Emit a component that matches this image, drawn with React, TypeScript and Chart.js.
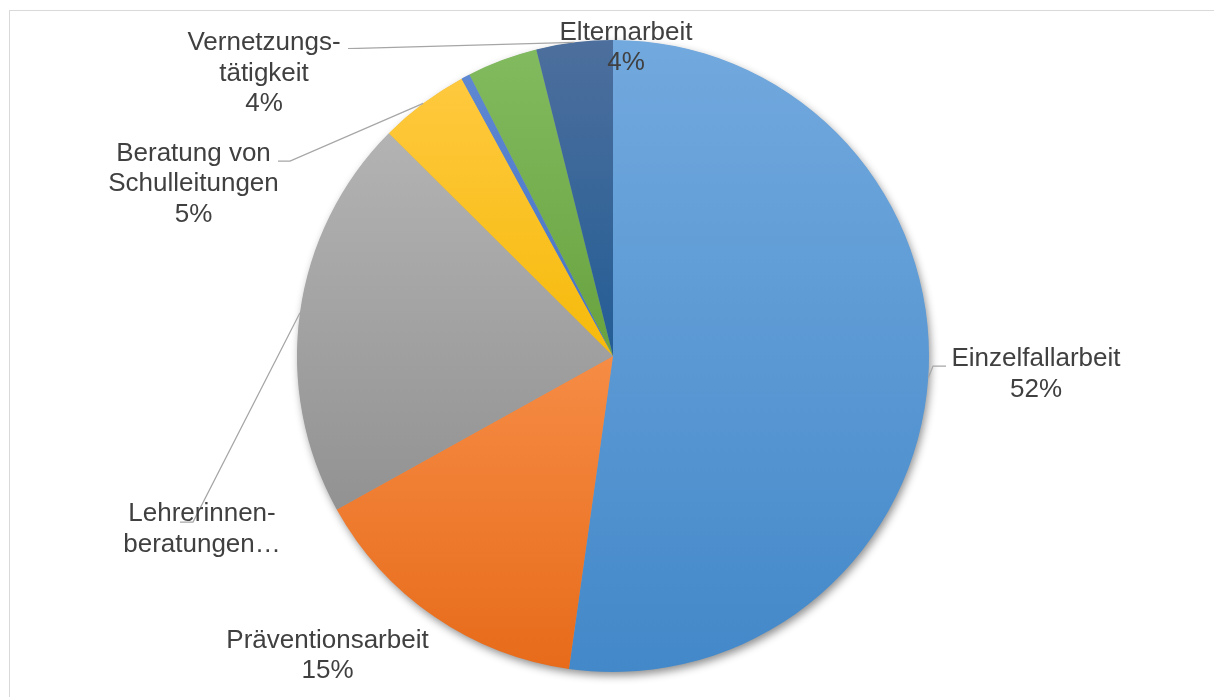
import React, { useEffect, useRef } from 'react';
import { Chart, registerables } from 'chart.js';

Chart.register(...registerables);

// ---- data ----
const categories = [
  'Einzelfallarbeit',
  'Präventionsarbeit',
  'Lehrerinnen-beratungen…',
  'Beratung von Schulleitungen',
  '',
  'Elternarbeit',
  'Vernetzungstätigkeit',
];
const shares = [52.2, 14.7, 20.5, 4.6, 0.45, 3.6, 3.9];
const labelLines = [
  ['Einzelfallarbeit'],
  ['Präventionsarbeit'],
  ['Lehrerinnen-', 'beratungen…'],
  ['Beratung von', 'Schulleitungen'],
  [],
  ['Elternarbeit'],
  ['Vernetzungs-', 'tätigkeit'],
];
const showPercent = [true, true, false, true, false, true, true];

// ---- styles ----
const topColors = ['#72A9DE', '#F68C45', '#B3B3B3', '#FFC93F', '#5F88D2', '#82BA5F', '#4D6F9D'];
const bottomColors = ['#4388C9', '#E76B1A', '#929292', '#F6BA0A', '#4472C4', '#68A33F', '#235D95'];

// label layout, px offsets from pie centre (first-line baseline)
type Pt = [number, number];
const labelLayout: ({ x: number; y: number; leader?: Pt[] } | null)[] = [
  { x: 423, y: 10, leader: [[333, 10], [320, 10]] },
  { x: -285.5, y: 291.7 },
  { x: -411, y: 165, leader: [[-433, 166], [-420, 166]] },
  { x: -419.5, y: -195.3, leader: [[-335, -195], [-323, -195]] },
  null,
  { x: 13, y: -316.5 },
  { x: -349, y: -306, leader: [[-265, -307.5], [-255, -307.7]] },
];
const LINE_H = 30.7;
const FONT = '26px "Liberation Sans", Arial, sans-serif';
const TEXT_COLOR = '#404040';
const LEADER_COLOR = '#A6A6A6';

const total = shares.reduce((a, b) => a + b, 0);

function sliceGradient(ctx: any) {
  const chart = ctx.chart;
  const area = chart.chartArea;
  const i = ctx.dataIndex;
  if (!area || i === undefined) return bottomColors[i ?? 0];
  const cx = (area.left + area.right) / 2;
  const cy = (area.top + area.bottom) / 2;
  const r = Math.min(area.right - area.left, area.bottom - area.top) / 2;
  let before = 0;
  for (let k = 0; k < i; k++) before += shares[k];
  const a0 = -Math.PI / 2 + (before / total) * Math.PI * 2;
  const a1 = a0 + (shares[i] / total) * Math.PI * 2;
  const ys = [cy, cy + r * Math.sin(a0), cy + r * Math.sin(a1)];
  const contains = (a: number) => {
    for (let t = a - Math.PI * 4; t <= a1 + 1e-9; t += Math.PI * 2) {
      if (t >= a0 && t <= a1) return true;
    }
    return false;
  };
  if (contains(-Math.PI / 2)) ys.push(cy - r);
  if (contains(Math.PI / 2)) ys.push(cy + r);
  const minY = Math.min(...ys);
  const maxY = Math.max(...ys);
  const g = chart.ctx.createLinearGradient(0, minY, 0, Math.max(maxY, minY + 1));
  g.addColorStop(0, topColors[i]);
  g.addColorStop(1, bottomColors[i]);
  return g;
}

const shadowPlugin = {
  id: 'pieShadow',
  beforeDatasetsDraw(chart: any) {
    const arc = chart.getDatasetMeta(0).data[0];
    if (!arc) return;
    const { x, y, outerRadius } = arc.getProps(['x', 'y', 'outerRadius'], true);
    const ctx = chart.ctx;
    ctx.save();
    ctx.shadowColor = 'rgba(0,0,0,0.45)';
    ctx.shadowBlur = 9;
    ctx.shadowOffsetX = 2;
    ctx.shadowOffsetY = 4;
    ctx.fillStyle = '#8c9cb0';
    ctx.beginPath();
    ctx.arc(x, y, outerRadius - 0.5, 0, Math.PI * 2);
    ctx.fill();
    ctx.restore();
  },
};

const labelPlugin = {
  id: 'sliceLabels',
  afterDatasetsDraw(chart: any) {
    const ctx = chart.ctx;
    const arcs = chart.getDatasetMeta(0).data;
    ctx.save();
    // leader lines
    ctx.strokeStyle = LEADER_COLOR;
    ctx.lineWidth = 1.25;
    arcs.forEach((arc: any, i: number) => {
      const lay = labelLayout[i];
      if (!lay || !lay.leader) return;
      const { x, y, startAngle, endAngle, outerRadius } = arc.getProps(
        ['x', 'y', 'startAngle', 'endAngle', 'outerRadius'],
        true
      );
      const mid = (startAngle + endAngle) / 2;
      ctx.beginPath();
      ctx.moveTo(x + lay.leader[0][0], y + lay.leader[0][1]);
      for (let k = 1; k < lay.leader.length; k++) ctx.lineTo(x + lay.leader[k][0], y + lay.leader[k][1]);
      ctx.lineTo(x + outerRadius * Math.cos(mid), y + outerRadius * Math.sin(mid));
      ctx.stroke();
    });
    // texts
    ctx.font = FONT;
    ctx.fillStyle = TEXT_COLOR;
    ctx.textAlign = 'center';
    ctx.textBaseline = 'alphabetic';
    arcs.forEach((arc: any, i: number) => {
      const lay = labelLayout[i];
      if (!lay) return;
      const { x, y } = arc.getProps(['x', 'y'], true);
      const lines = [...labelLines[i]];
      if (showPercent[i]) lines.push(Math.round((shares[i] / total) * 100) + '%');
      lines.forEach((t, k) => ctx.fillText(t, x + lay.x, y + lay.y + k * LINE_H));
    });
    ctx.restore();
  },
};

export default function App() {
  const canvasRef = useRef<HTMLCanvasElement | null>(null);

  useEffect(() => {
    const canvas = canvasRef.current;
    if (!canvas) return;
    const chart = new Chart(canvas, {
      type: 'pie',
      data: {
        labels: categories,
        datasets: [
          {
            data: shares,
            backgroundColor: sliceGradient as any,
            borderWidth: 0,
            hoverOffset: 0,
            offset: 0,
          },
        ],
      },
      options: {
        responsive: false,
        animation: false,
        events: [],
        layout: { padding: { left: 12, right: 0, top: 40, bottom: 25 } },
        plugins: {
          legend: { display: false },
          tooltip: { enabled: false },
          title: { display: false },
        },
      },
      plugins: [shadowPlugin, labelPlugin],
    });
    return () => chart.destroy();
  }, []);

  return (
    <div
      style={{
        position: 'fixed',
        left: 0,
        top: 0,
        width: 1214,
        height: 697,
        overflow: 'hidden',
        background: '#ffffff',
      }}
    >
      <div
        style={{
          position: 'absolute',
          left: 9,
          top: 10,
          width: 1300,
          height: 800,
          border: '1.5px solid #D9D9D9',
          boxSizing: 'border-box',
        }}
      />
      <canvas
        ref={canvasRef}
        width={1214}
        height={697}
        style={{ position: 'absolute', left: 0, top: 0, width: 1214, height: 697 }}
      />
    </div>
  );
}
